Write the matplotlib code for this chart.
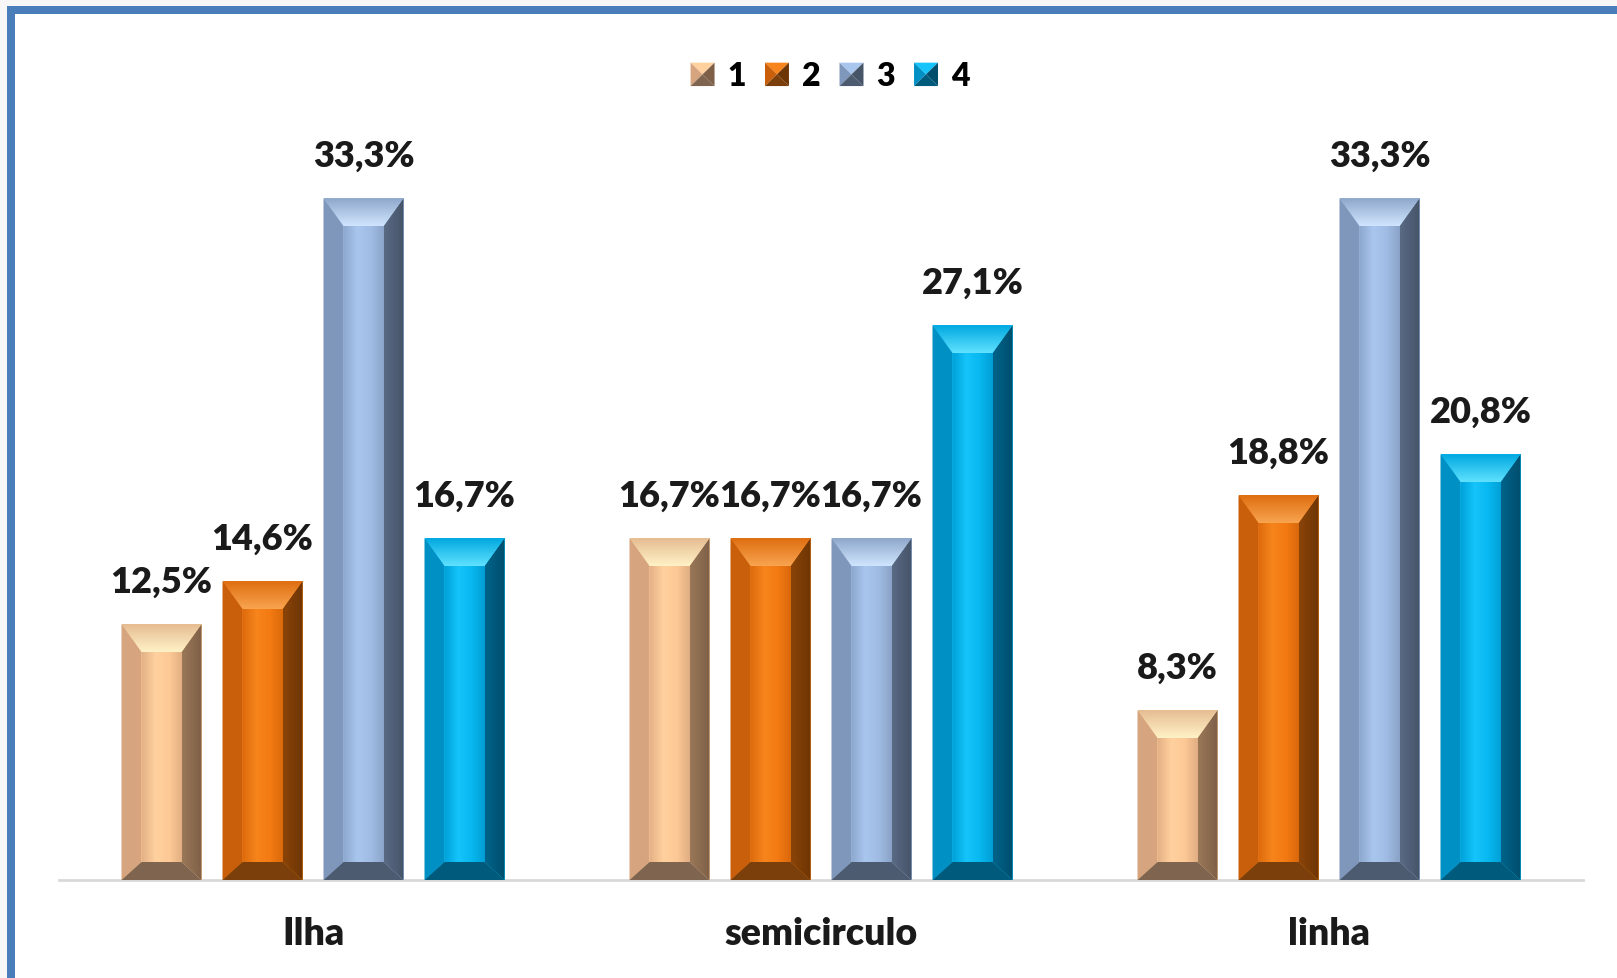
import matplotlib
matplotlib.use('Agg')
import matplotlib.pyplot as plt
import numpy as np
from matplotlib.patches import Polygon, Rectangle, Patch
from matplotlib.colors import LinearSegmentedColormap
from matplotlib.legend_handler import HandlerBase

plt.rcParams['font.family'] = ['Lato', 'DejaVu Sans']
plt.rcParams['font.weight'] = 'heavy'

#
# data
#
categories = ['Ilha', 'semicirculo', 'linha']
series = ['1', '2', '3', '4']
s1 = [12.5, 16.7, 8.3]
s2 = [14.6, 16.7, 18.8]
s3 = [33.3, 16.7, 33.3]
s4 = [16.7, 27.1, 20.8]
values = [s1, s2, s3, s4]

#
# shading per series: left bevel, right bevel, bottom, top outer/inner, face stops
#
shades = [
    dict(L='#d6a47e', R=['#9a7858', '#7e6048'], B='#7f6550', T=['#e6bc92', '#fff2c6'],
         F=['#e4b186', '#ffd19e', '#fdc996', '#e0ad82']),
    dict(L='#c95f0b', R=['#8a4408', '#6e3504'], B='#7a3f0a', T=['#de6e10', '#f9a450'],
         F=['#de6c0e', '#f7841c', '#f47a12', '#d8680c']),
    dict(L='#7f97ba', R=['#5a6a84', '#465468'], B='#4d5b71', T=['#8ea7ca', '#d0e6ff'],
         F=['#8fa9cf', '#a9c6ee', '#a0bce4', '#8aa2c6']),
    dict(L='#0090c4', R=['#00638a', '#004e6c'], B='#005a7c', T=['#00a8e0', '#60e2ff'],
         F=['#00a2da', '#14c4fa', '#08b8f0', '#009ed4']),
]

W, H = 1617, 979
fig = plt.figure(figsize=(W / 100, H / 100), dpi=100)
fig.patch.set_facecolor('#f7f7f7')
# white panel with blue border on top and left (other sides cropped)
fig.patches.append(Rectangle((7 / W, -0.05), 1.1, 1 - 7 / H + 0.05, transform=fig.transFigure,
                             facecolor='#4a7ebb', edgecolor='none', zorder=-3))
fig.patches.append(Rectangle((15 / W, -0.05), 1.1, 1 - 15 / H + 0.05, transform=fig.transFigure,
                             facecolor='white', edgecolor='none', zorder=-2))

ax_l, ax_r, ax_b, ax_t = 59, 1583, 881, 62
ax = fig.add_axes([ax_l / W, (H - ax_b) / H, (ax_r - ax_l) / W, (ax_b - ax_t) / H])
ax.set_facecolor('none')
xlim = (-0.5, 2.5)
ylim = (0, 40)
dx = (xlim[1] - xlim[0]) / (ax_r - ax_l)   # data units per pixel
dy = (ylim[1] - ylim[0]) / (ax_b - ax_t)

x = np.arange(len(categories))
step = 101 * dx
width = 80 * dx
bx, bt, bb = 20 * dx, 28 * dy, 18 * dy


def grad_fill(pts, colors, extent, horizontal=True):
    cmap = LinearSegmentedColormap.from_list('g', colors)
    arr = np.linspace(0, 1, 256)
    arr = arr[None, :] if horizontal else arr[:, None]
    im = ax.imshow(arr, cmap=cmap, extent=extent, origin='lower', aspect='auto',
                   interpolation='bilinear', zorder=3)
    im.set_clip_path(Polygon(pts, closed=True, transform=ax.transData))


for i, (vals, sh) in enumerate(zip(values, shades)):
    pos = x + (i - 1.5) * step
    bars = ax.bar(pos, vals, width, color=sh['F'][1], edgecolor='none', zorder=2)
    for b, v in zip(bars, vals):
        x0, y0 = b.get_x(), 0
        x1, y1 = x0 + b.get_width(), b.get_height()
        # front face
        grad_fill([(x0 + bx, y0 + bb), (x1 - bx, y0 + bb), (x1 - bx, y1 - bt), (x0 + bx, y1 - bt)],
                  sh['F'], (x0 + bx, x1 - bx, y0 + bb, y1 - bt))
        # side bevels
        ax.add_patch(Polygon([(x0, y0), (x0 + bx, y0 + bb), (x0 + bx, y1 - bt), (x0, y1)],
                             facecolor=sh['L'], edgecolor='none', zorder=4))
        grad_fill([(x1, y0), (x1 - bx, y0 + bb), (x1 - bx, y1 - bt), (x1, y1)],
                  sh['R'], (x1 - bx, x1, y0, y1))
        # bottom bevel
        ax.add_patch(Polygon([(x0, y0), (x1, y0), (x1 - bx, y0 + bb), (x0 + bx, y0 + bb)],
                             facecolor=sh['B'], edgecolor='none', zorder=4))
        # top bevel with highlight
        grad_fill([(x0, y1), (x1, y1), (x1 - bx, y1 - bt), (x0 + bx, y1 - bt)],
                  [sh['T'][1], sh['T'][0]], (x0, x1, y1 - bt, y1), horizontal=False)
        ax.annotate(f'{v:.1f}%'.replace('.', ','), (b.get_x() + b.get_width() / 2, v),
                    xytext=(0, 23), textcoords='offset points', ha='center', va='baseline',
                    fontsize=26, fontweight='heavy', color='#1a1a1a', zorder=5)

ax.set_xlim(*xlim)
ax.set_ylim(*ylim)
ax.set_xticks(x)
ax.set_xticklabels(categories, fontsize=27, fontweight='heavy', color='#1a1a1a')
ax.tick_params(axis='x', length=0, pad=26)
ax.set_yticks([])
for side in ['top', 'left', 'right']:
    ax.spines[side].set_visible(False)
ax.spines['bottom'].set_color('#d9d9d9')
ax.spines['bottom'].set_linewidth(2)
ax.spines['bottom'].set_zorder(1)


class PyramidHandler(HandlerBase):
    def __init__(self, sh):
        super().__init__()
        self.sh = sh

    def create_artists(self, legend, orig_handle, xdescent, ydescent, width, height, fontsize, trans):
        x0, y0 = -xdescent, -ydescent
        x1, y1 = x0 + width, y0 + height
        cx, cy = (x0 + x1) / 2, (y0 + y1) / 2
        sh = self.sh
        faces = [
            ([(x0, y1), (x1, y1), (cx, cy)], sh['F'][1]),
            ([(x0, y0), (x0, y1), (cx, cy)], sh['L']),
            ([(x1, y0), (x1, y1), (cx, cy)], sh['R'][1]),
            ([(x0, y0), (x1, y0), (cx, cy)], sh['B']),
        ]
        return [Polygon(p, closed=True, facecolor=c, edgecolor='none', transform=trans)
                for p, c in faces]


handles = [Patch(facecolor=sh['F'][1], label=s) for s, sh in zip(series, shades)]
fig.legend(handles=handles, loc='center', bbox_to_anchor=(830 / W, 1 - 77 / H), ncol=4,
           frameon=False, handlelength=0.75, handleheight=0.75,
           handletextpad=0.4, columnspacing=0.6,
           handler_map={h: PyramidHandler(sh) for h, sh in zip(handles, shades)},
           prop={'weight': 'heavy', 'size': 23})

fig.savefig('out.png', dpi=100, facecolor=fig.get_facecolor())
